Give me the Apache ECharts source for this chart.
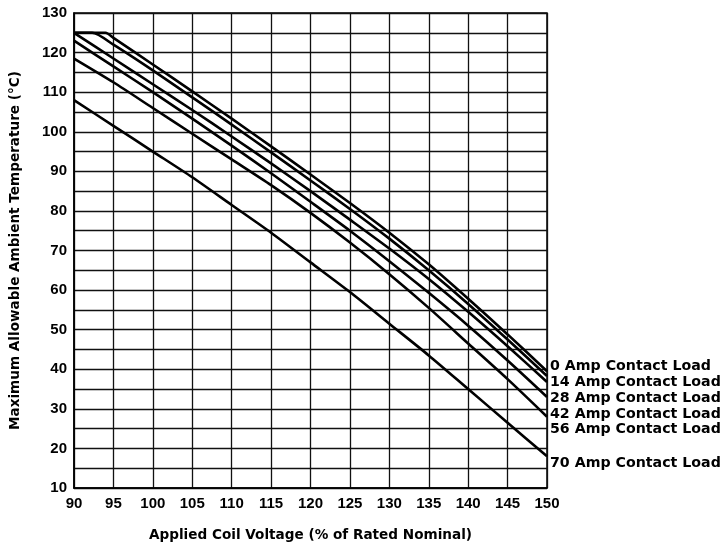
<!DOCTYPE html>
<html>
<head>
<meta charset="utf-8">
<title>Coil voltage derating</title>
<script src="https://cdn.jsdelivr.net/npm/echarts@6/dist/echarts.min.js"></script>
<style>
  html, body { margin: 0; padding: 0; background: #fff; }
  #chart { width: 725px; height: 549px; }
</style>
</head>
<body>
<div id="chart"></div>
<script>
// applied coil voltage, % of rated nominal
const voltage = [90, 95, 100, 105, 110, 115, 120, 125, 130, 135, 140, 145, 150];

// max ambient temperature (C) read at each voltage
const load0  = [125, 123.7, 117, 110.2, 103.3, 96.3, 89.2, 82, 74.5, 66.5, 57.8, 48.8, 39.5];
const load14 = [125, 122, 115.5, 108.7, 101.8, 94.8, 87.7, 80.5, 73, 65, 56.5, 47.5, 38.3];
const load28 = [125, 118.5, 112, 105.5, 98.8, 92, 85, 77.8, 70.5, 62.8, 54.5, 45.8, 36.8];
const load42 = [123, 116.5, 110, 103.3, 96.5, 89.5, 82.3, 75, 67.3, 59.3, 51, 42.2, 33];
const load56 = [118.5, 112.5, 106, 99.5, 93, 86.5, 79.5, 72, 64, 55.5, 46.5, 37.5, 28];
const load70 = [108, 101.5, 95, 88.5, 81.5, 74.5, 67, 59.5, 51.5, 43.5, 35, 26.5, 18];

// the two lightest loads are capped flat at the top until these voltages
const capTemp = 125;
const capEnd0 = 94;
const capEnd14 = 92.3;

const loadNames = ['0 Amp Contact Load', '14 Amp Contact Load', '28 Amp Contact Load',
                   '42 Amp Contact Load', '56 Amp Contact Load', '70 Amp Contact Load'];
const loadValues = [load0, load14, load28, load42, load56, load70];

// end label nudges so the legend text stacks like the original
const labelShift = [[0, -5], [0, 6], [0, 16], [0, 17], [0, 13], [0, 7]];

const tickFont = 'Liberation Sans, Arial, sans-serif';
const textFont = 'DejaVu Sans, Verdana, sans-serif';

function toPoints(values, capEnd) {
  var pts = voltage.map(function (v, i) { return [v, values[i]]; });
  if (capEnd) {
    pts.splice(1, 0, [capEnd, capTemp]);
  }
  return pts;
}

var chart = echarts.init(document.getElementById('chart'));

var series = loadNames.map(function (name, i) {
  var cap = i === 0 ? capEnd0 : (i === 1 ? capEnd14 : null);
  return {
    name: name,
    type: 'line',
    data: toPoints(loadValues[i], cap),
    showSymbol: false,
    smooth: 0.25,
    lineStyle: { color: '#000', width: 2.6 },
    endLabel: {
      show: true,
      formatter: '{a}',
      color: '#000',
      fontFamily: textFont,
      fontWeight: 'bold',
      fontSize: 14.2,
      distance: 3,
      offset: labelShift[i]
    },
    z: 5
  };
});

var option = {
  animation: false,
  backgroundColor: '#fff',
  grid: {
    left: 72,
    right: 178,
    top: 13,
    bottom: 61,
    show: true,
    borderColor: '#000',
    borderWidth: 1.5
  },
  xAxis: {
    type: 'value',
    min: 90,
    max: 150,
    interval: 5,
    name: 'Applied Coil Voltage (% of Rated Nominal)',
    nameLocation: 'middle',
    nameGap: 40,
    nameTextStyle: { color: '#000', fontFamily: textFont, fontWeight: 'bold', fontSize: 13.6 },
    axisLine: { show: true, lineStyle: { color: '#000', width: 1.5 } },
    axisTick: { show: false },
    axisLabel: { color: '#000', fontFamily: tickFont, fontWeight: 'bold', fontSize: 15, margin: 8 },
    splitLine: { show: true, lineStyle: { color: '#111', width: 1.3 } }
  },
  yAxis: {
    type: 'value',
    min: 10,
    max: 130,
    interval: 5,
    name: 'Maximum Allowable Ambient Temperature (\u00b0C)',
    nameLocation: 'middle',
    nameGap: 52,
    nameTextStyle: { color: '#000', fontFamily: textFont, fontWeight: 'bold', fontSize: 13.6 },
    axisLine: { show: true, lineStyle: { color: '#000', width: 1.5 } },
    axisTick: { show: false },
    axisLabel: {
      color: '#000', fontFamily: tickFont, fontWeight: 'bold', fontSize: 15, margin: 7,
      formatter: function (v) { return v % 10 === 0 ? v : ''; }
    },
    splitLine: { show: true, lineStyle: { color: '#111', width: 1.3 } }
  },
  series: series
};

chart.setOption(option);
</script>
</body>
</html>
